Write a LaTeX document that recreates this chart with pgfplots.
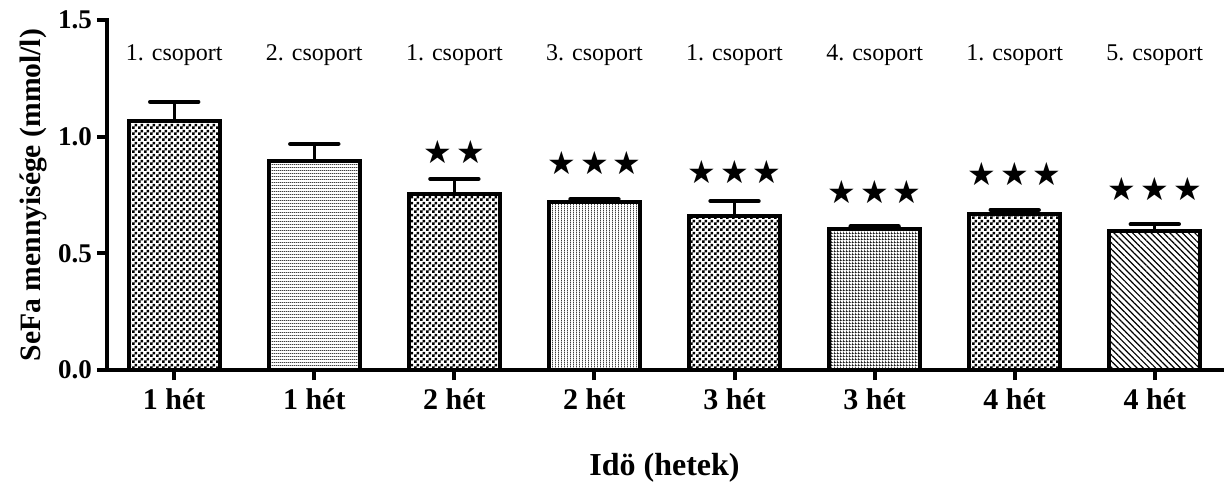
\documentclass[border=0pt]{standalone}
\usepackage{fontspec}
\setmainfont{Liberation Serif}
\newfontfamily\symfont{DejaVu Sans}
\usepackage{pgfplots}
\pgfplotsset{compat=1.18}
\usetikzlibrary{patterns,patterns.meta}

\pgfdeclarepatternformonly{checker}{\pgfqpoint{0pt}{0pt}}{\pgfqpoint{3pt}{3pt}}{\pgfqpoint{3pt}{3pt}}{%
  \pgfpathrectangle{\pgfqpoint{0pt}{0pt}}{\pgfqpoint{1.5pt}{1.5pt}}%
  \pgfpathrectangle{\pgfqpoint{1.5pt}{1.5pt}}{\pgfqpoint{1.5pt}{1.5pt}}%
  \pgfusepath{fill}}
\pgfdeclarepatternformonly{hlines}{\pgfqpoint{0pt}{0pt}}{\pgfqpoint{1pt}{1.5pt}}{\pgfqpoint{1pt}{1.5pt}}{%
  \pgfpathrectangle{\pgfqpoint{0pt}{0pt}}{\pgfqpoint{1pt}{0.6pt}}%
  \pgfusepath{fill}}
\pgfdeclarepatternformonly{vlines}{\pgfqpoint{0pt}{0pt}}{\pgfqpoint{1.5pt}{1pt}}{\pgfqpoint{1.5pt}{1pt}}{%
  \pgfpathrectangle{\pgfqpoint{0pt}{0pt}}{\pgfqpoint{0.55pt}{1pt}}%
  \pgfusepath{fill}}
\pgfdeclarepatternformonly{finegrid}{\pgfqpoint{0pt}{0pt}}{\pgfqpoint{1.5pt}{1.5pt}}{\pgfqpoint{1.5pt}{1.5pt}}{%
  \pgfpathrectangle{\pgfqpoint{0pt}{0pt}}{\pgfqpoint{1.5pt}{0.45pt}}%
  \pgfpathrectangle{\pgfqpoint{0pt}{0pt}}{\pgfqpoint{0.45pt}{1.5pt}}%
  \pgfusepath{fill}}

\pgfplotsset{
  mybar/.style={ybar, bar width=45.5pt, bar shift=0pt, draw=black, line width=2pt,
    error bars/y dir=plus, error bars/y explicit,
    error bars/error bar style={line width=1.6pt, black},
    error bars/error mark options={rotate=90, line width=2.2pt, mark size=12pt, black, line cap=round}},
}
\tikzset{
  stars/.style={font=\symfont\fontsize{16}{16}\selectfont},
  grp/.style={font=\fontsize{12}{14}\selectfont},
}

\begin{document}
\begin{tikzpicture}
\begin{axis}[
  scale only axis, width=557.5pt, height=175pt,
  xmin=-0.48, xmax=7.48, ymin=0, ymax=1.5,
  axis lines*=left,
  axis line style={line width=2pt, line cap=rect},
  clip=false,
  xtick={0,...,7},
  xticklabels={1 hét,1 hét,2 hét,2 hét,3 hét,3 hét,4 hét,4 hét},
  ytick={0,0.5,1.0,1.5},
  yticklabels={0.0,0.5,1.0,1.5},
  tick align=outside,
  major tick length=5pt,
  tick style={line width=2pt, black},
  xticklabel style={font=\fontsize{15}{17}\selectfont\bfseries, yshift=-1pt},
  yticklabel style={font=\fontsize{13.5}{14}\selectfont\bfseries, xshift=1pt},
  xlabel={Idö (hetek)},
  ylabel={SeFa mennyisége (mmol/l)},
  xlabel style={font=\fontsize{16}{18}\selectfont\bfseries, at={(axis description cs:0.5,0)}, anchor=center, yshift=-49pt},
  ylabel style={font=\fontsize{14.8}{17}\selectfont\bfseries, at={(axis description cs:-0.066,0.5)}, anchor=center},
]
\coordinate (O) at (rel axis cs:0,0);
\addplot[mybar, pattern=checker] coordinates {(0,1.067) +- (0,0.082)};
\addplot[mybar, pattern=hlines, pattern color=black!75] coordinates {(1,0.897) +- (0,0.072)};
\addplot[mybar, pattern=checker] coordinates {(2,0.753) +- (0,0.066)};
\addplot[mybar, pattern=vlines, pattern color=black!75] coordinates {(3,0.722) +- (0,0.010)};
\addplot[mybar, pattern=checker] coordinates {(4,0.660) +- (0,0.064)};
\addplot[mybar, pattern=finegrid] coordinates {(5,0.603) +- (0,0.012)};
\addplot[mybar, pattern=checker] coordinates {(6,0.670) +- (0,0.016)};
\addplot[mybar, pattern={Lines[angle=-45, distance=2.2pt, line width=0.6pt]}] coordinates {(7,0.597) +- (0,0.028)};

\node[grp] at (axis cs:0,1.35) {1. csoport};
\node[grp] at (axis cs:1,1.35) {2. csoport};
\node[grp] at (axis cs:2,1.35) {1. csoport};
\node[grp] at (axis cs:3,1.35) {3. csoport};
\node[grp] at (axis cs:4,1.35) {1. csoport};
\node[grp] at (axis cs:5,1.35) {4. csoport};
\node[grp] at (axis cs:6,1.35) {1. csoport};
\node[grp] at (axis cs:7,1.35) {5. csoport};
\node[stars] at (axis cs:2,0.934) {★\hspace{2pt}★};
\node[stars] at (axis cs:3,0.887) {★\hspace{2pt}★\hspace{2pt}★};
\node[stars] at (axis cs:4,0.849) {★\hspace{2pt}★\hspace{2pt}★};
\node[stars] at (axis cs:5,0.763) {★\hspace{2pt}★\hspace{2pt}★};
\node[stars] at (axis cs:6,0.840) {★\hspace{2pt}★\hspace{2pt}★};
\node[stars] at (axis cs:7,0.776) {★\hspace{2pt}★\hspace{2pt}★};
\end{axis}
\pgfresetboundingbox
\path[use as bounding box] ([shift={(-53.5pt,-59pt)}]O) rectangle ([shift={(559pt,185pt)}]O);
\end{tikzpicture}
\end{document}
